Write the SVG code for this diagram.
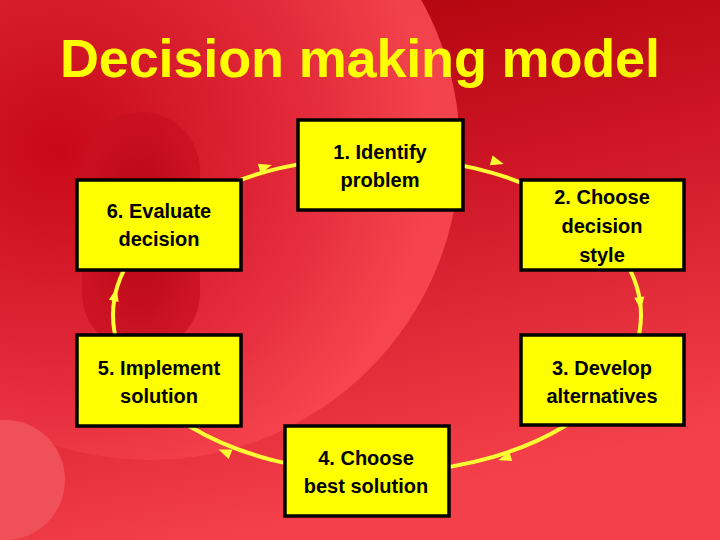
<svg xmlns="http://www.w3.org/2000/svg" width="720" height="540" viewBox="0 0 720 540">
<defs>
<linearGradient id="bg" x1="0" y1="0" x2="0.3" y2="1"><stop offset="0" stop-color="#a80006"/><stop offset="0.45" stop-color="#cc1424"/><stop offset="1" stop-color="#f4404a"/></linearGradient>
<radialGradient id="c1" cx="0.35" cy="0.5" r="0.6"><stop offset="0" stop-color="#c80818"/><stop offset="0.7" stop-color="#e83040"/><stop offset="1" stop-color="#f84850"/></radialGradient>
<radialGradient id="c2" cx="0.5" cy="0.5" r="0.5"><stop offset="0" stop-color="#b00010"/><stop offset="1" stop-color="#c81020"/></radialGradient>
<style>
.box{fill:#ffff00;stroke:#000;stroke-width:3.5}
.t{font-family:"Liberation Sans",Arial,sans-serif;font-size:20px;font-weight:bold;fill:#000;text-anchor:middle}
.arc{fill:none;stroke:#ffff33;stroke-width:4}
.ah{fill:#ffff33}
</style>
</defs>
<rect width="720" height="540" fill="url(#bg)"/>
<circle cx="150" cy="150" r="310" fill="url(#c1)" opacity="0.9"/>
<rect x="82" y="112" width="118" height="240" rx="59" fill="url(#c2)" opacity="0.8"/>
<circle cx="5" cy="480" r="60" fill="#f05058"/>
<text x="60" y="77" font-family="Liberation Sans,Arial,sans-serif" font-size="54" font-weight="bold" fill="#ffff00" textLength="600">Decision making model</text>
<g id="connectors">
<ellipse class="arc" cx="377" cy="315" rx="264" ry="158"/>
<polygon class="ah" points="7,0 -6,-5 -6,5" transform="translate(265,167) rotate(-15.6)"/>
<polygon class="ah" points="7,0 -6,-5 -6,5" transform="translate(497,162) rotate(16)"/>
<polygon class="ah" points="7,0 -6,-5 -6,5" transform="translate(640,303) rotate(83)"/>
<polygon class="ah" points="7,0 -6,-5 -6,5" transform="translate(505,458) rotate(162)"/>
<polygon class="ah" points="7,0 -6,-5 -6,5" transform="translate(225,452) rotate(202)"/>
<polygon class="ah" points="7,0 -6,-5 -6,5" transform="translate(115,295) rotate(-78)"/>
</g>
<g id="n1"><rect class="box" x="298" y="120" width="165" height="90"/><text class="t" x="380" y="159">1. Identify</text><text class="t" x="380" y="187">problem</text></g>
<g id="n2"><rect class="box" x="521" y="180" width="163" height="90"/><text class="t" x="602" y="204">2. Choose</text><text class="t" x="602" y="233">decision</text><text class="t" x="602" y="262">style</text></g>
<g id="n3"><rect class="box" x="521" y="335" width="163" height="90"/><text class="t" x="602" y="375">3. Develop</text><text class="t" x="602" y="403">alternatives</text></g>
<g id="n4"><rect class="box" x="285" y="426" width="164" height="90"/><text class="t" x="366" y="465">4. Choose</text><text class="t" x="366" y="493">best solution</text></g>
<g id="n5"><rect class="box" x="77" y="335" width="164" height="91"/><text class="t" x="159" y="375">5. Implement</text><text class="t" x="159" y="403">solution</text></g>
<g id="n6"><rect class="box" x="77" y="180" width="164" height="90"/><text class="t" x="159" y="218">6. Evaluate</text><text class="t" x="159" y="246">decision</text></g>
</svg>
